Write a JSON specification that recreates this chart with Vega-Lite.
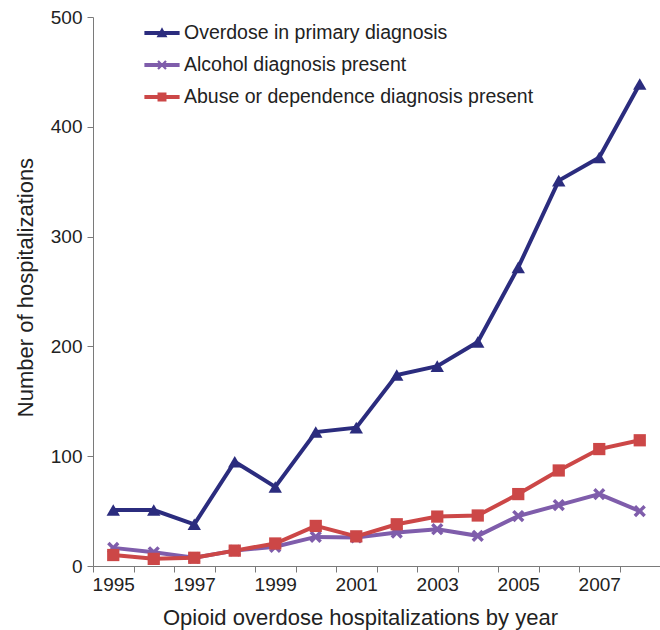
{
  "$schema": "https://vega.github.io/schema/vega-lite/v6.json",
  "width": 567,
  "height": 549,
  "autosize": {"type": "none"},
  "padding": {"left": 93, "top": 17, "right": 0, "bottom": 64},
  "background": "white",
  "config": {
    "font": "Liberation Sans",
    "view": {"stroke": null},
    "axis": {"domainColor": "#7a7a7a", "tickColor": "#7a7a7a", "labelColor": "#222222", "titleColor": "#222222", "labelFont": "Liberation Sans", "titleFont": "Liberation Sans", "titleFontWeight": "normal", "grid": false},
    "legend": {"labelFontSize": 19.5, "labelColor": "#222222", "labelFont": "Liberation Sans", "symbolSize": 1024, "symbolStrokeWidth": 0, "rowPadding": 6, "labelOffset": 6, "labelLimit": 500}
  },
  "data": {
    "values": [
      {"year": 1995, "series": "Overdose in primary diagnosis", "value": 51},
      {"year": 1996, "series": "Overdose in primary diagnosis", "value": 51},
      {"year": 1997, "series": "Overdose in primary diagnosis", "value": 38},
      {"year": 1998, "series": "Overdose in primary diagnosis", "value": 95},
      {"year": 1999, "series": "Overdose in primary diagnosis", "value": 72},
      {"year": 2000, "series": "Overdose in primary diagnosis", "value": 122},
      {"year": 2001, "series": "Overdose in primary diagnosis", "value": 126},
      {"year": 2002, "series": "Overdose in primary diagnosis", "value": 174},
      {"year": 2003, "series": "Overdose in primary diagnosis", "value": 182},
      {"year": 2004, "series": "Overdose in primary diagnosis", "value": 204},
      {"year": 2005, "series": "Overdose in primary diagnosis", "value": 272},
      {"year": 2006, "series": "Overdose in primary diagnosis", "value": 351},
      {"year": 2007, "series": "Overdose in primary diagnosis", "value": 372},
      {"year": 2008, "series": "Overdose in primary diagnosis", "value": 439},
      {"year": 1995, "series": "Alcohol diagnosis present", "value": 16.5},
      {"year": 1996, "series": "Alcohol diagnosis present", "value": 12.5},
      {"year": 1997, "series": "Alcohol diagnosis present", "value": 7.5},
      {"year": 1998, "series": "Alcohol diagnosis present", "value": 14},
      {"year": 1999, "series": "Alcohol diagnosis present", "value": 17.5},
      {"year": 2000, "series": "Alcohol diagnosis present", "value": 26.5},
      {"year": 2001, "series": "Alcohol diagnosis present", "value": 26},
      {"year": 2002, "series": "Alcohol diagnosis present", "value": 30.5},
      {"year": 2003, "series": "Alcohol diagnosis present", "value": 33.5},
      {"year": 2004, "series": "Alcohol diagnosis present", "value": 27.5},
      {"year": 2005, "series": "Alcohol diagnosis present", "value": 45.5},
      {"year": 2006, "series": "Alcohol diagnosis present", "value": 55.5},
      {"year": 2007, "series": "Alcohol diagnosis present", "value": 65.5},
      {"year": 2008, "series": "Alcohol diagnosis present", "value": 50},
      {"year": 1995, "series": "Abuse or dependence diagnosis present", "value": 10},
      {"year": 1996, "series": "Abuse or dependence diagnosis present", "value": 6.5},
      {"year": 1997, "series": "Abuse or dependence diagnosis present", "value": 7.5},
      {"year": 1998, "series": "Abuse or dependence diagnosis present", "value": 14},
      {"year": 1999, "series": "Abuse or dependence diagnosis present", "value": 20.5},
      {"year": 2000, "series": "Abuse or dependence diagnosis present", "value": 36.5},
      {"year": 2001, "series": "Abuse or dependence diagnosis present", "value": 27},
      {"year": 2002, "series": "Abuse or dependence diagnosis present", "value": 38},
      {"year": 2003, "series": "Abuse or dependence diagnosis present", "value": 45},
      {"year": 2004, "series": "Abuse or dependence diagnosis present", "value": 46},
      {"year": 2005, "series": "Abuse or dependence diagnosis present", "value": 65.5},
      {"year": 2006, "series": "Abuse or dependence diagnosis present", "value": 87},
      {"year": 2007, "series": "Abuse or dependence diagnosis present", "value": 106.5},
      {"year": 2008, "series": "Abuse or dependence diagnosis present", "value": 114.5}
    ]
  },
  "encoding": {
    "x": {
      "field": "year", "type": "ordinal",
      "scale": {"type": "band", "paddingInner": 0, "paddingOuter": 0},
      "axis": {
        "title": "Opioid overdose hospitalizations by year",
        "titleFontSize": 22, "titleX": 267, "titleY": 58, "titleBaseline": "alphabetic", "titleAnchor": "middle",
        "labelFontSize": 19, "labelAngle": 0, "labelPadding": 3,
        "tickBand": "extent", "tickSize": 6,
        "labelExpr": "toNumber(datum.value) % 2 == 1 ? datum.label : ''"
      }
    },
    "y": {
      "field": "value", "type": "quantitative",
      "scale": {"domain": [0, 500], "nice": false},
      "axis": {
        "title": "Number of hospitalizations",
        "titleFontSize": 22, "titleX": -61, "titleY": 270, "titleBaseline": "alphabetic", "titleAnchor": "middle",
        "labelFontSize": 19, "labelPadding": 5, "tickSize": 6,
        "values": [0, 100, 200, 300, 400, 500]
      }
    },
    "color": {
      "field": "series", "type": "nominal",
      "scale": {
        "domain": ["Overdose in primary diagnosis", "Alcohol diagnosis present", "Abuse or dependence diagnosis present"],
        "range": ["#2b2c7e", "#7f5dab", "#cc4747"]
      },
      "legend": {
        "title": null, "orient": "none", "legendX": 53, "legendY": 0,
        "symbolType": "M-1.1,-0.125H1.1V0.125H-1.1Z",
        "encode": {
          "symbols": {
            "update": {
              "shape": {"signal": "datum.value === 'Overdose in primary diagnosis' ? 'M-1.1,-0.125H1.1V0.125H-1.1Z M0,-0.36L0.34,0.27L-0.34,0.27Z' : datum.value === 'Alcohol diagnosis present' ? 'M-1.1,-0.125H1.1V0.125H-1.1Z M-0.3,-0.2L-0.2,-0.3L0,-0.1L0.2,-0.3L0.3,-0.2L0.1,0L0.3,0.2L0.2,0.3L0,0.1L-0.2,0.3L-0.3,0.2L-0.1,0Z' : 'M-1.1,-0.125H1.1V0.125H-1.1Z M-0.28,-0.28H0.28V0.28H-0.28Z'"},
              "fill": {"scale": "color", "field": "value"},
              "strokeWidth": {"value": 0}
            }
          }
        }
      }
    }
  },
  "layer": [
    {
      "mark": {"type": "line", "strokeWidth": 4}
    },
    {
      "transform": [{"filter": "datum.series === 'Overdose in primary diagnosis'"}],
      "mark": {"type": "point", "filled": true, "opacity": 1, "size": 180, "shape": "triangle-up"}
    },
    {
      "transform": [{"filter": "datum.series === 'Alcohol diagnosis present'"}],
      "mark": {"type": "point", "filled": true, "opacity": 1, "size": 150, "shape": "M-1,-0.6L-0.6,-1L0,-0.4L0.6,-1L1,-0.6L0.4,0L1,0.6L0.6,1L0,0.4L-0.6,1L-1,0.6L-0.4,0Z"}
    },
    {
      "transform": [{"filter": "datum.series === 'Abuse or dependence diagnosis present'"}],
      "mark": {"type": "point", "filled": true, "opacity": 1, "size": 150, "shape": "square"}
    }
  ]
}
